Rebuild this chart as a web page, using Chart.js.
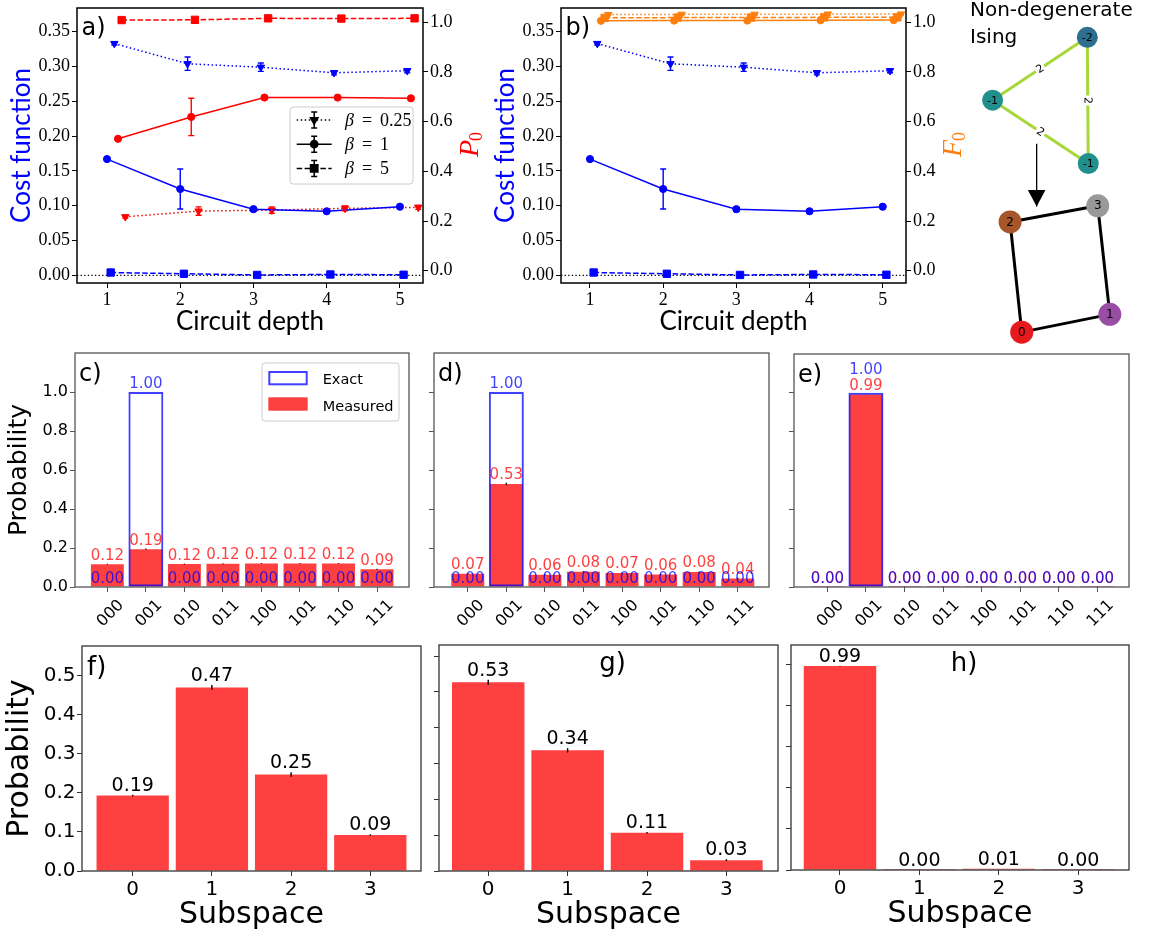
<!DOCTYPE html>
<html><head><meta charset="utf-8">
<script src="https://cdn.jsdelivr.net/npm/chart.js@4.4.1/dist/chart.umd.min.js"></script>
<style>
html,body{margin:0;padding:0;background:#fff;}
#wrap{position:relative;width:1152px;height:936px;overflow:hidden;background:#fff;}
#wrap canvas{position:absolute;left:0;top:0;}
</style></head><body><div id="wrap">
<canvas id="cA" width="1152" height="936"></canvas>
<canvas id="cB" width="1152" height="936"></canvas>
<canvas id="cNet" width="1152" height="936"></canvas>
<canvas id="cC" width="1152" height="936"></canvas>
<canvas id="cD" width="1152" height="936"></canvas>
<canvas id="cE" width="1152" height="936"></canvas>
<canvas id="cF" width="1152" height="936"></canvas>
<canvas id="cG" width="1152" height="936"></canvas>
<canvas id="cH" width="1152" height="936"></canvas>
</div>
<script>
// ================= DATA =================
const depths = [1, 2, 3, 4, 5];
const betaNames = ['0.25', '1', '5'];
const costBeta025 = [0.333, 0.304, 0.299, 0.291, 0.294];
const costBeta025Err = [0.002, 0.0096, 0.006, 0.003, 0.003];
const costBeta1 = [0.167, 0.124, 0.095, 0.092, 0.0986];
const costBeta1Err = [0.002, 0.0287, 0.002, 0.002, 0.001];
const costBeta5 = [0.004, 0.0022, 0.0005, 0.0012, 0.0008];
const costBeta5Err = [0.001, 0.001, 0.0005, 0.0005, 0.0005];
const p0Beta025 = [0.217, 0.240, 0.244, 0.251, 0.255];
const p0Beta025Err = [0.005, 0.017, 0.013, 0.010, 0.008];
const p0Beta1 = [0.531, 0.619, 0.697, 0.697, 0.694];
const p0Beta1Err = [0.004, 0.075, 0.004, 0.004, 0.004];
const p0Beta5 = [1.009, 1.010, 1.016, 1.015, 1.016];
const p0Beta5Err = [0.003, 0.003, 0.003, 0.003, 0.003];
const f0Beta025 = [1.031, 1.032, 1.032, 1.033, 1.033];
const f0Beta025Err = [0.004, 0.004, 0.004, 0.004, 0.004];
const f0Beta1 = [1.006, 1.007, 1.007, 1.008, 1.009];
const f0Beta1Err = [0.002, 0.002, 0.002, 0.002, 0.002];
const f0Beta5 = [1.018, 1.019, 1.019, 1.020, 1.020];
const f0Beta5Err = [0.002, 0.002, 0.002, 0.002, 0.002];

const basisStates = ['000', '001', '010', '011', '100', '101', '110', '111'];
const exactProb = [0, 1, 0, 0, 0, 0, 0, 0];
const measuredC = [0.117, 0.194, 0.118, 0.119, 0.121, 0.120, 0.121, 0.091];
const measuredCErr = [0.002, 0.003, 0.002, 0.002, 0.002, 0.002, 0.002, 0.002];
const measuredD = [0.068, 0.528, 0.063, 0.078, 0.072, 0.064, 0.077, 0.044];
const measuredDErr = [0.003, 0.006, 0.003, 0.003, 0.003, 0.003, 0.003, 0.003];
const measuredE = [0.0006, 0.992, 0.0006, 0.0004, 0.0004, 0.0020, 0.0018, 0.0006];
const measuredEErr = [0.0005, 0.001, 0.0005, 0.0005, 0.0005, 0.0005, 0.0005, 0.0005];

const subspaceLabels = ['0', '1', '2', '3'];
const subspaceF = [0.193, 0.470, 0.247, 0.092];
const subspaceFErr = [0.002, 0.006, 0.006, 0.002];
const subspaceG = [0.527, 0.337, 0.107, 0.030];
const subspaceGErr = [0.007, 0.006, 0.002, 0.003];
const subspaceH = [0.992, 0.0004, 0.006, 0.0004];
const subspaceHErr = [0.001, 0.0002, 0.0005, 0.0002];

// Ising graph (layout coordinates, node fields, couplings)
const isingLabels = ['-2', '-1', '-1'];
const isingLayoutX = [134, 34.3, 135];
const isingLayoutY = [26.7, 91.7, 157.3];
const isingEdges = [[1, 0], [0, 2], [1, 2]];
const isingWeights = [2, 2, 2];
const qubitLabels = ['0', '1', '2', '3'];
const qubitLayoutX = [65, 157.7, 52.7, 145];
const qubitLayoutY = [331.7, 313.3, 217.7, 201];
const qubitEdges = [[2, 3], [3, 1], [1, 0], [0, 2]];
const arrowLayoutX = [80.7, 80.7];
const arrowLayoutY = [136.7, 201.7];

// ================= STYLE / LAYOUT =================
const W = 1152, H = 936;
const BLUE = '#0000ff', RED = '#ff0000', ORANGE = '#ff7f0e';
const RED75 = 'rgba(255,0,0,0.75)', BLUE75 = 'rgba(0,0,255,0.75)';
const SERIF = '"Liberation Serif", serif';
const SANS = '"DejaVu Sans", sans-serif';
const CMSS = 'Lato, "DejaVu Sans", sans-serif';

Chart.defaults.font.family = SANS;
Chart.defaults.color = '#000';
Chart.defaults.animation = false;
Chart.defaults.responsive = false;
Chart.defaults.events = [];
Chart.defaults.plugins.legend.display = false;
Chart.defaults.plugins.tooltip.enabled = false;

const fixY = w => s => { s.width = w; s.paddingTop = 0; s.paddingBottom = 0; s.paddingLeft = 0; s.paddingRight = 0; };
const fixX = h => s => { s.height = h; s.paddingTop = 0; s.paddingBottom = 0; s.paddingLeft = 0; s.paddingRight = 0; };
const padFor = (a, wl, wr, hb) => ({ left: a.L - wl, right: W - a.R - wr, top: a.T, bottom: H - a.B - hb });

// generic plugins
const framePlugin = {
  id: 'frame',
  defaults: { color: '#000', width: 1 },
  afterDatasetsDraw(chart, args, o) {
    const { ctx, chartArea: a } = chart;
    ctx.save(); ctx.strokeStyle = o.color; ctx.lineWidth = o.width;
    ctx.strokeRect(a.left, a.top, a.right - a.left, a.bottom - a.top);
    ctx.restore();
  }
};
const errPlugin = {
  id: 'errbars',
  afterDatasetsDraw(chart) {
    const ctx = chart.ctx;
    chart.data.datasets.forEach((ds, i) => {
      if (!ds.errors) return;
      const meta = chart.getDatasetMeta(i);
      const ys = chart.scales[meta.yAxisID];
      ctx.save();
      ctx.strokeStyle = ds.errColor || ds.borderColor;
      ctx.lineWidth = ds.errWidth || 1.4;
      ctx.setLineDash([]);
      meta.data.forEach((el, j) => {
        const v = ds.data[j].y, e = ds.errors[j];
        const y1 = ys.getPixelForValue(v - e), y2 = ys.getPixelForValue(v + e);
        const x = el.x, c = ds.capSize || 0;
        ctx.beginPath();
        ctx.moveTo(x, y1); ctx.lineTo(x, y2);
        if (c) { ctx.moveTo(x - c, y1); ctx.lineTo(x + c, y1); ctx.moveTo(x - c, y2); ctx.lineTo(x + c, y2); }
        ctx.stroke();
      });
      ctx.restore();
    });
  }
};
const barLabelPlugin = {
  id: 'barLabels',
  afterDatasetsDraw(chart, args, o) {
    if (!o || !o.font) return;
    const ctx = chart.ctx, dss = chart.data.datasets;
    const idx = dss.map((d, i) => i).filter(i => dss[i].labelColor)
      .sort((a, b) => (dss[a].labelLayer || 0) - (dss[b].labelLayer || 0));
    idx.forEach(i => {
      const ds = dss[i], meta = chart.getDatasetMeta(i), ys = chart.scales[meta.yAxisID];
      ctx.save(); ctx.font = o.font; ctx.fillStyle = ds.labelColor;
      ctx.textAlign = 'center'; ctx.textBaseline = 'alphabetic';
      meta.data.forEach((el, j) => {
        const v = ds.data[j].y, e = ds.errors ? ds.errors[j] : 0;
        let y = ys.getPixelForValue(v + e) - o.gap;
        if (ds.stackOver !== undefined) {
          const m = dss[ds.stackOver];
          const mv = m.data[j].y, me = m.errors ? m.errors[j] : 0;
          if (v > 0.5 && Math.abs(v - mv) < 0.05) y = Math.min(y, ys.getPixelForValue(mv + me) - o.gap - o.lineStep);
        }
        ctx.fillText(v.toFixed(2), el.x, y);
      });
      ctx.restore();
    });
  }
};
Chart.register(framePlugin, errPlugin, barLabelPlugin);

function panelLetter(ctx, text, x, y, size, align) {
  ctx.save(); ctx.font = size + 'px ' + SANS; ctx.fillStyle = '#000';
  ctx.textAlign = align || 'left'; ctx.textBaseline = 'alphabetic';
  ctx.fillText(text, x, y); ctx.restore();
}
function rotatedSubLabel(ctx, x, y, main, sub, color, size) {
  ctx.save(); ctx.translate(x, y); ctx.rotate(-Math.PI / 2); ctx.fillStyle = color;
  ctx.textBaseline = 'alphabetic'; ctx.textAlign = 'left';
  ctx.font = 'italic ' + size + 'px ' + SERIF; ctx.fillText(main, 0, 0);
  const w = ctx.measureText(main).width;
  ctx.font = Math.round(size * 0.66) + 'px ' + SERIF; ctx.fillText(sub, w - 1, size * 0.16);
  ctx.restore();
}

// ================= PANELS a, b =================
const styleB025 = { dash: [1.5, 2.5], pointStyle: 'triangle', rot: 180, r: 4.3, off: 0.10 };
const styleB1 = { dash: [], pointStyle: 'circle', rot: 0, r: 3.6, off: 0.0 };
const styleB5 = { dash: [5.5, 2.4], pointStyle: 'rect', rot: 0, r: 5.2, off: 0.05 };

function lineDS(ys, errs, st, off, color, axis) {
  return {
    data: depths.map((d, i) => ({ x: d + off, y: ys[i] })),
    errors: errs, capSize: 3, yAxisID: axis,
    borderColor: color, backgroundColor: color, borderWidth: 1.5, borderDash: st.dash,
    pointStyle: st.pointStyle, pointRotation: st.rot, pointRadius: st.r, pointBorderWidth: 1,
    pointBackgroundColor: color, pointBorderColor: color, tension: 0, fill: false
  };
}
function depthChart(canvasId, area, xmin, xmax, rightSeries, rightColor, rightName, letter, withLegend) {
  const datasets = [
    lineDS(costBeta025, costBeta025Err, styleB025, styleB025.off, BLUE, 'y'),
    lineDS(costBeta1, costBeta1Err, styleB1, styleB1.off, BLUE, 'y'),
    lineDS(costBeta5, costBeta5Err, styleB5, styleB5.off, BLUE, 'y'),
    lineDS(rightSeries[0], rightSeries[1], styleB025, 0.25, rightColor, 'y2'),
    lineDS(rightSeries[2], rightSeries[3], styleB1, 0.15, rightColor, 'y2'),
    lineDS(rightSeries[4], rightSeries[5], styleB5, 0.20, rightColor, 'y2')
  ];
  const tickFont = { family: SERIF, size: 18 };
  const overlay = {
    id: 'overlay' + canvasId,
    beforeDatasetsDraw(chart) {
      const { ctx, chartArea: a, scales } = chart;
      const y0 = scales.y.getPixelForValue(0);
      ctx.save(); ctx.strokeStyle = '#000'; ctx.lineWidth = 1.2; ctx.setLineDash([1.3, 2.3]);
      ctx.beginPath(); ctx.moveTo(a.left, y0); ctx.lineTo(a.right, y0); ctx.stroke(); ctx.restore();
    },
    afterDraw(chart) {
      const { ctx, chartArea: a } = chart;
      panelLetter(ctx, letter, a.left + 4.5, a.top + 27, 24);
      rotatedSubLabel(ctx, a.right + 55, (a.top + a.bottom) / 2 + 11.5, rightName, '0', rightColor, 28);
      if (withLegend) {
        const bw = 123, bh = 77;
        const bx = a.right - 10 - bw, by = (a.top + a.bottom) / 2 - bh / 2;
        ctx.save();
        ctx.beginPath(); ctx.roundRect(bx, by, bw, bh, 3);
        ctx.fillStyle = 'rgba(255,255,255,0.8)'; ctx.fill();
        ctx.strokeStyle = '#cccccc'; ctx.lineWidth = 1; ctx.stroke();
        [styleB025, styleB1, styleB5].forEach((st, k) => {
          const yy = by + 13 + k * 24.2;
          ctx.strokeStyle = '#000'; ctx.fillStyle = '#000'; ctx.lineWidth = 1.5;
          ctx.setLineDash(st.dash);
          ctx.beginPath(); ctx.moveTo(bx + 6.7, yy); ctx.lineTo(bx + 41.7, yy); ctx.stroke();
          ctx.setLineDash([]);
          const mx = bx + 24.2;
          ctx.beginPath(); ctx.moveTo(mx, yy - 8); ctx.lineTo(mx, yy + 8);
          ctx.moveTo(mx - 3, yy - 8); ctx.lineTo(mx + 3, yy - 8);
          ctx.moveTo(mx - 3, yy + 8); ctx.lineTo(mx + 3, yy + 8); ctx.stroke();
          Chart.helpers.drawPoint(ctx, { pointStyle: st.pointStyle, rotation: st.rot, radius: st.r, borderWidth: 1 }, mx, yy);
          ctx.textBaseline = 'alphabetic'; ctx.textAlign = 'left';
          ctx.font = 'italic 18px ' + SERIF; ctx.fillText('\u03B2', bx + 55, yy + 6);
          ctx.font = '18px ' + SERIF; ctx.fillText('=', bx + 72, yy + 6);
          ctx.fillText(betaNames[k], bx + 90, yy + 6);
        });
        ctx.restore();
      }
    }
  };
  return new Chart(document.getElementById(canvasId), {
    type: 'line',
    data: { datasets },
    plugins: [overlay],
    options: {
      layout: { padding: padFor(area, 71, 60, 54) },
      plugins: { frame: { color: '#000', width: 1.5 } },
      scales: {
        x: {
          type: 'linear', min: xmin, max: xmax, offset: false, afterFit: fixX(54),
          grid: { display: true, drawOnChartArea: false, drawTicks: true, tickLength: 5, color: '#000', offset: false },
          border: { display: false },
          ticks: { stepSize: 1, includeBounds: false, autoSkip: false, maxRotation: 0, font: tickFont, color: '#000', padding: 1 },
          title: { display: true, text: 'Circuit depth', font: { family: CMSS, size: 26 }, color: '#000', padding: 0 }
        },
        y: {
          type: 'linear', position: 'left', min: -0.01106, max: 0.3841, afterFit: fixY(71),
          grid: { display: true, drawOnChartArea: false, drawTicks: true, tickLength: 5, color: '#000' },
          border: { display: false },
          ticks: { stepSize: 0.05, includeBounds: false, font: tickFont, color: '#000', padding: 2, callback: v => v.toFixed(2) },
          title: { display: true, text: 'Cost function', font: { family: CMSS, size: 26 }, color: BLUE, padding: 0 }
        },
        y2: {
          type: 'linear', position: 'right', min: -0.0495, max: 1.0576, afterFit: fixY(60),
          grid: { display: true, drawOnChartArea: false, drawTicks: true, tickLength: 5, color: '#000' },
          border: { display: false },
          ticks: { stepSize: 0.2, includeBounds: false, font: tickFont, color: '#000', padding: 2, callback: v => v.toFixed(1) }
        }
      }
    }
  });
}
depthChart('cA', { L: 77, T: 8, R: 423, B: 283 }, 0.59, 5.315,
  [p0Beta025, p0Beta025Err, p0Beta1, p0Beta1Err, p0Beta5, p0Beta5Err], RED, 'P', 'a)', true);
depthChart('cB', { L: 561, T: 8, R: 906, B: 283 }, 0.604, 5.318,
  [f0Beta025, f0Beta025Err, f0Beta1, f0Beta1Err, f0Beta5, f0Beta5Err], ORANGE, 'F', 'b)', false);

// ================= GRAPH PANEL =================
(function () {
  const netArea = { L: 960, T: 0, R: 1150, B: 345 };
  const isingPts = isingLayoutX.map((x, i) => ({ x, y: isingLayoutY[i] }));
  const qubitPts = qubitLayoutX.map((x, i) => ({ x, y: qubitLayoutY[i] }));
  const arrowPts = arrowLayoutX.map((x, i) => ({ x, y: arrowLayoutY[i] }));
  const datasets = [];
  datasets.push({ data: isingPts, showLine: false, pointRadius: 10.5, pointBorderWidth: 0,
    pointBackgroundColor: ['#2d6f8e', '#21908d', '#21908d'], order: 0, label: 'ising' });
  datasets.push({ data: qubitPts, showLine: false, pointRadius: 11.5, pointBorderWidth: 0,
    pointBackgroundColor: ['#e41a1c', '#984ea3', '#a65628', '#999999'], order: 0, label: 'qubits' });
  isingEdges.forEach(([a, b]) => datasets.push({ data: [isingPts[a], isingPts[b]], showLine: true,
    borderColor: '#a6d83a', borderWidth: 3, pointRadius: 0, order: 2 }));
  qubitEdges.forEach(([a, b]) => datasets.push({ data: [qubitPts[a], qubitPts[b]], showLine: true,
    borderColor: '#000', borderWidth: 3, pointRadius: 0, order: 2 }));
  datasets.push({ data: arrowPts, showLine: true, borderColor: '#000', borderWidth: 1.3, pointRadius: 0, order: 2, label: 'arrow' });
  const netPlugin = {
    id: 'net',
    afterDatasetsDraw(chart) {
      const { ctx, scales } = chart;
      const px = p => [scales.x.getPixelForValue(p.x), scales.y.getPixelForValue(p.y)];
      ctx.save();
      // arrow head
      const [tx, ty] = px(arrowPts[1]);
      ctx.fillStyle = '#000'; ctx.beginPath();
      ctx.moveTo(tx, ty); ctx.lineTo(tx - 8.8, ty - 16.5); ctx.lineTo(tx + 8.8, ty - 16.5); ctx.closePath(); ctx.fill();
      // edge labels
      ctx.font = '11px ' + SANS; ctx.textAlign = 'center'; ctx.textBaseline = 'middle';
      isingEdges.forEach(([a, b], k) => {
        const [x1, y1] = px(isingPts[a]), [x2, y2] = px(isingPts[b]);
        let ang = Math.atan2(y2 - y1, x2 - x1);
        if (ang > Math.PI / 2) ang -= Math.PI; if (ang < -Math.PI / 2) ang += Math.PI;
        ctx.save(); ctx.translate((x1 + x2) / 2, (y1 + y2) / 2); ctx.rotate(ang);
        ctx.fillStyle = '#fff'; ctx.fillRect(-5, -6.5, 10, 13);
        ctx.fillStyle = '#000'; ctx.fillText(String(isingWeights[k]), 0, 0.5);
        ctx.restore();
      });
      // node labels
      ctx.fillStyle = '#000';
      isingPts.forEach((p, i) => { const [x, y] = px(p); ctx.fillText(isingLabels[i], x, y + 0.5); });
      ctx.font = '12px ' + SANS;
      qubitPts.forEach((p, i) => { const [x, y] = px(p); ctx.fillText(qubitLabels[i], x, y + 0.5); });
      // title
      ctx.font = '20px ' + SANS; ctx.textAlign = 'left'; ctx.textBaseline = 'alphabetic';
      ctx.fillText('Non-degenerate', chart.chartArea.left + 10, 16);
      ctx.fillText('Ising', chart.chartArea.left + 10, 43);
      ctx.restore();
    }
  };
  new Chart(document.getElementById('cNet'), {
    type: 'scatter',
    data: { datasets },
    plugins: [netPlugin],
    options: {
      layout: { padding: padFor(netArea, 0, 0, 0) },
      plugins: { frame: false },
      scales: {
        x: { type: 'linear', display: false, min: 0, max: 190 },
        y: { type: 'linear', display: false, min: 0, max: 345, reverse: true }
      }
    }
  });
})();

// ================= PANELS c, d, e =================
function stateChart(canvasId, area, xmin, xmax, measured, measuredErr, letter, showY, withLegend) {
  const wl = showY ? 70.5 : 12;
  const legendPlugin = {
    id: 'lg' + canvasId,
    afterDraw(chart) {
      const { ctx, chartArea: a } = chart;
      panelLetter(ctx, letter, a.left + 4, a.top + 27.5, 24);
      if (!withLegend) return;
      const bw = 137, bh = 58, bx = a.right - 10 - bw, by = a.top + 10;
      ctx.save();
      ctx.beginPath(); ctx.roundRect(bx, by, bw, bh, 3);
      ctx.fillStyle = 'rgba(255,255,255,0.8)'; ctx.fill();
      ctx.strokeStyle = '#cccccc'; ctx.lineWidth = 1; ctx.stroke();
      ctx.strokeStyle = BLUE75; ctx.lineWidth = 2;
      ctx.strokeRect(bx + 7.3, by + 9, 37.4, 12.3);
      ctx.fillStyle = RED75; ctx.fillRect(bx + 6.3, by + 34.3, 39.4, 13.4);
      ctx.fillStyle = '#000'; ctx.font = '14.5px ' + SANS; ctx.textBaseline = 'alphabetic';
      ctx.fillText('Exact', bx + 60.7, by + 21);
      ctx.fillText('Measured', bx + 60.7, by + 47.5);
      ctx.restore();
    }
  };
  return new Chart(document.getElementById(canvasId), {
    type: 'bar',
    data: {
      datasets: [
        { label: 'Exact', data: exactProb.map((v, i) => ({ x: i, y: v })), backgroundColor: 'rgba(0,0,0,0)',
          borderColor: BLUE75, borderWidth: 2, borderSkipped: false, grouped: false, order: 0,
          barPercentage: 0.907, categoryPercentage: 1, labelColor: BLUE75, labelLayer: 1, stackOver: 1 },
        { label: 'Measured', data: measured.map((v, i) => ({ x: i, y: v })), backgroundColor: RED75,
          borderWidth: 0, grouped: false, order: 1, barPercentage: 0.855, categoryPercentage: 1,
          errors: measuredErr, errColor: '#000', errWidth: 1.3, labelColor: RED75, labelLayer: 0 }
      ]
    },
    plugins: [legendPlugin],
    options: {
      layout: { padding: padFor(area, wl, 0, 45) },
      plugins: { frame: { color: '#555', width: 1.3 }, barLabels: { font: '15px ' + SANS, gap: 4, lineStep: 16 } },
      scales: {
        x: {
          type: 'linear', min: xmin, max: xmax, offset: false, afterFit: fixX(45),
          grid: { display: true, drawOnChartArea: false, drawTicks: true, tickLength: 5, color: '#555', offset: false },
          border: { display: false },
          ticks: { stepSize: 1, includeBounds: false, autoSkip: false, minRotation: 45, maxRotation: 45,
            labelOffset: 14, padding: 4, font: { family: SANS, size: 16 }, color: '#000',
            callback: v => basisStates[v] !== undefined ? basisStates[v] : '' }
        },
        y: {
          type: 'linear', min: 0, max: 1.2, afterFit: fixY(wl),
          afterBuildTicks: s => { s.ticks = s.ticks.filter(t => t.value <= 1.0001); },
          grid: { display: true, drawOnChartArea: false, drawTicks: true, tickLength: 5, color: '#555' },
          border: { display: false },
          ticks: { stepSize: 0.2, includeBounds: false, font: { family: SANS, size: 16 }, color: '#000', padding: 2,
            callback: v => showY ? v.toFixed(1) : '' },
          title: { display: showY, text: 'Probability', font: { family: SANS, size: 25 }, color: '#000', padding: 0 }
        }
      }
    }
  });
}
stateChart('cC', { L: 75, T: 353, R: 409, B: 587 }, -0.84, 7.83, measuredC, measuredCErr, 'c)', true, true);
stateChart('cD', { L: 434, T: 353, R: 769, B: 587 }, -0.875, 7.81, measuredD, measuredDErr, 'd)', false, false);
stateChart('cE', { L: 794, T: 354, R: 1129, B: 587 }, -0.865, 7.82, measuredE, measuredEErr, 'e)', false, false);

// ================= PANELS f, g, h =================
function subspaceChart(canvasId, area, xmin, xmax, ymax, ystep, values, errs, letter, showY, letterCentered) {
  const wl = showY ? 80 : 12;
  const hx = 62;
  const letterPlugin = {
    id: 'lt' + canvasId,
    afterDraw(chart) {
      const { ctx, chartArea: a } = chart;
      if (letterCentered) panelLetter(ctx, letter, (a.left + a.right) / 2 + 4, a.top + 25.5, 26, 'center');
      else panelLetter(ctx, letter, a.left + 5, a.top + 28.5, 26);
    }
  };
  return new Chart(document.getElementById(canvasId), {
    type: 'bar',
    data: {
      datasets: [
        { label: 'Measured', data: values.map((v, i) => ({ x: i, y: v })), backgroundColor: RED75,
          borderWidth: 0, grouped: false, barPercentage: 0.913, categoryPercentage: 1,
          errors: errs, errColor: '#000', errWidth: 1.4, labelColor: '#000' }
      ]
    },
    plugins: [letterPlugin],
    options: {
      layout: { padding: padFor(area, wl, 0, hx) },
      plugins: { frame: { color: '#333', width: 1.3 }, barLabels: { font: '19px ' + SANS, gap: 4, lineStep: 20 } },
      scales: {
        x: {
          type: 'linear', min: xmin, max: xmax, offset: false, afterFit: fixX(hx),
          grid: { display: true, drawOnChartArea: false, drawTicks: true, tickLength: 5, color: '#333', offset: false },
          border: { display: false },
          ticks: { stepSize: 1, includeBounds: false, autoSkip: false, maxRotation: 0, padding: 2,
            font: { family: SANS, size: 20 }, color: '#000',
            callback: v => subspaceLabels[v] !== undefined ? subspaceLabels[v] : '' },
          title: { display: true, text: 'Subspace', font: { family: SANS, size: 30 }, color: '#000', padding: 0 }
        },
        y: {
          type: 'linear', min: 0, max: ymax, afterFit: fixY(wl),
          grid: { display: true, drawOnChartArea: false, drawTicks: true, tickLength: 5, color: '#333' },
          border: { display: false },
          ticks: { stepSize: ystep, includeBounds: false, font: { family: SANS, size: 20 }, color: '#000', padding: 1.5,
            callback: v => showY ? v.toFixed(1) : '' },
          title: { display: showY, text: 'Probability', font: { family: SANS, size: 30 }, color: '#000', padding: 0 }
        }
      }
    }
  });
}
subspaceChart('cF', { L: 82, T: 646, R: 421, B: 871 }, -0.64, 3.64, 0.576, 0.1, subspaceF, subspaceFErr, 'f)', true, false);
subspaceChart('cG', { L: 439, T: 645, R: 778, B: 871 }, -0.62, 3.65, 0.631, 0.1, subspaceG, subspaceGErr, 'g)', false, true);
subspaceChart('cH', { L: 791, T: 645, R: 1129, B: 870 }, -0.617, 3.64, 1.094, 0.2, subspaceH, subspaceHErr, 'h)', false, true);
</script></body></html>
